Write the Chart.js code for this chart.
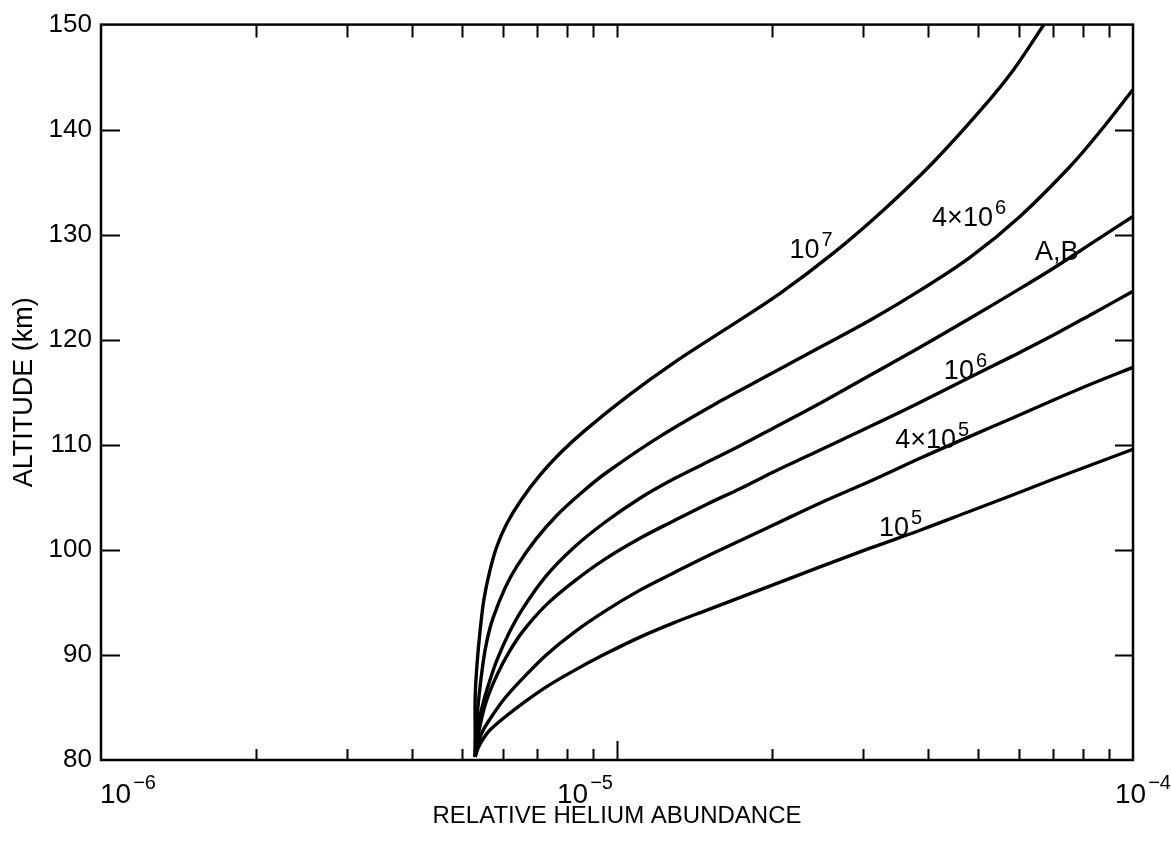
<!DOCTYPE html>
<html>
<head>
<meta charset="utf-8">
<title>Relative helium abundance vs altitude</title>
<script src="https://cdn.jsdelivr.net/npm/chart.js@4.4.1/dist/chart.umd.min.js"></script>
<style>
  html, body { margin: 0; padding: 0; background: #fff; }
  #wrap { width: 1171px; height: 843px; }
</style>
</head>
<body>
<div id="wrap"><canvas id="heliumChart" width="1171" height="843"></canvas></div>
<script>
// Curve values: relative helium abundance (x) and altitude in km (y)
const abund1e7 = [5.31e-6, 5.31e-6, 5.31e-6, 5.355e-6, 5.43e-6, 5.523e-6, 5.674e-6, 5.852e-6, 6.12e-6, 6.516e-6, 7.09e-6, 7.79e-6, 8.67e-6, 1.05e-5, 1.284e-5, 1.626e-5, 2.07e-5, 2.622e-5, 3.278e-5, 4.097e-5, 5.121e-5, 5.854e-5, 6.72e-5];
const alt1e7   = [80.30, 83.14, 85.99, 89.13, 92.36, 95.31, 98.07, 100.35, 102.54, 104.73, 107.11, 109.29, 111.38, 114.66, 117.76, 121.03, 124.42, 128.22, 132.31, 136.87, 142.11, 145.63, 150.00];

const abund4e6 = [5.31e-6, 5.33e-6, 5.38e-6, 5.5e-6, 5.6e-6, 5.75e-6, 6.066e-6, 6.4e-6, 6.966e-6, 7.65e-6, 8.556e-6, 9.56e-6, 1.212e-5, 1.583e-5, 1.98e-5, 2.474e-5, 3.093e-5, 3.866e-5, 4.832e-5, 6.039e-5, 7.55e-5, 8.63e-5, 1e-4];
const alt4e6   = [80.30, 82.76, 85.23, 89.22, 91.41, 93.50, 96.36, 98.45, 101.02, 103.30, 105.49, 107.39, 110.81, 114.14, 116.71, 119.28, 121.85, 124.70, 127.84, 131.74, 136.49, 139.82, 143.82];

const abundAB = [5.31e-6, 5.38e-6, 5.523e-6, 5.674e-6, 5.852e-6, 6.176e-6, 6.575e-6, 7.284e-6, 8.22e-6, 9.478e-6, 1.108e-5, 1.284e-5, 1.494e-5, 1.739e-5, 2.024e-5, 2.496e-5, 3.093e-5, 3.866e-5, 4.832e-5, 5.829e-5, 6.998e-5, 8.366e-5, 1e-4];
const altAB   = [80.30, 83.33, 85.71, 87.61, 89.51, 92.08, 94.45, 97.50, 100.16, 102.63, 104.92, 106.72, 108.34, 109.96, 111.67, 114.05, 116.62, 119.28, 122.04, 124.42, 126.79, 129.27, 131.74];

const abund1e6 = [5.31e-6, 5.404e-6, 5.574e-6, 5.852e-6, 6.176e-6, 6.575e-6, 7.284e-6, 8.22e-6, 9.478e-6, 1.108e-5, 1.284e-5, 1.494e-5, 1.739e-5, 2.024e-5, 2.356e-5, 2.742e-5, 3.632e-5, 4.832e-5, 5.829e-5, 6.998e-5, 8.366e-5, 1e-4];
const alt1e6   = [80.30, 82.85, 85.51, 88.08, 90.27, 92.27, 94.74, 96.93, 99.12, 101.11, 102.73, 104.35, 105.87, 107.49, 109.01, 110.53, 113.38, 116.43, 118.42, 120.42, 122.51, 124.61];

const abund4e5 = [5.31e-6, 5.449e-6, 5.674e-6, 6.066e-6, 6.575e-6, 7.284e-6, 8.22e-6, 9.478e-6, 1.108e-5, 1.284e-5, 1.494e-5, 1.739e-5, 2.024e-5, 2.496e-5, 3.093e-5, 3.866e-5, 4.832e-5, 5.829e-5, 6.998e-5, 8.366e-5, 1e-4];
const alt4e5   = [80.30, 82.38, 83.90, 85.90, 87.80, 89.98, 92.08, 94.17, 96.17, 97.78, 99.40, 100.92, 102.44, 104.54, 106.53, 108.72, 110.81, 112.53, 114.24, 115.86, 117.38];

const abund1e5 = [5.31e-6, 5.38e-6, 5.5e-6, 5.674e-6, 6.066e-6, 6.575e-6, 7.284e-6, 8.22e-6, 9.478e-6, 1.108e-5, 1.284e-5, 1.494e-5, 1.739e-5, 2.024e-5, 2.496e-5, 3.093e-5, 3.866e-5, 4.832e-5, 5.829e-5, 6.998e-5, 8.366e-5, 1e-4];
const alt1e5   = [80.30, 81.14, 82.00, 82.85, 84.09, 85.42, 86.94, 88.46, 90.08, 91.70, 93.03, 94.27, 95.50, 96.74, 98.45, 100.16, 101.87, 103.68, 105.20, 106.72, 108.15, 109.58];

// Curve labels (base text + superscript) and where they sit, in data units
const labelBase = ['10', '4×10', 'A,B', '10', '4×10', '10'];
const labelExp  = ['7', '6', '', '6', '5', '5'];
const labelAbund = [2.16e-5, 4.08e-5, 6.46e-5, 4.30e-5, 3.46e-5, 3.22e-5];
const labelAlt   = [127.8, 130.8, 127.6, 116.3, 109.7, 101.3];

// Axis ticks
const xDecades = [1e-6, 1e-5, 1e-4];
const xDecadeExp = ['−6', '−5', '−4'];
const xMinorTicks = [2e-6, 3e-6, 4e-6, 5e-6, 6e-6, 7e-6, 8e-6, 9e-6, 2e-5, 3e-5, 4e-5, 5e-5, 6e-5, 7e-5, 8e-5, 9e-5];
const yTicks = [90, 100, 110, 120, 130, 140];

const FONT = '"Liberation Sans", Arial, sans-serif';

function toPoints(xs, ys) {
  return xs.map((v, i) => ({ x: v, y: ys[i] }));
}

const series = [
  [abund1e7, alt1e7],
  [abund4e6, alt4e6],
  [abundAB, altAB],
  [abund1e6, alt1e6],
  [abund4e5, alt4e5],
  [abund1e5, alt1e5]
];

// frame, inward tick marks, decade labels and curve labels
const decorations = {
  id: 'decorations',
  afterDraw(chart) {
    const { ctx, chartArea: a, scales: { x, y } } = chart;
    ctx.save();
    ctx.strokeStyle = '#000';
    ctx.fillStyle = '#000';

    ctx.lineWidth = 2.5;
    ctx.strokeRect(a.left, a.top, a.right - a.left, a.bottom - a.top);

    ctx.lineWidth = 2;
    ctx.beginPath();
    xMinorTicks.forEach(v => {
      const px = Math.round(x.getPixelForValue(v)) + 0.5;
      ctx.moveTo(px, a.bottom); ctx.lineTo(px, a.bottom - 11);
      ctx.moveTo(px, a.top); ctx.lineTo(px, a.top + 13);
    });
    const mid = Math.round(x.getPixelForValue(xDecades[1])) + 0.5;
    ctx.moveTo(mid, a.bottom); ctx.lineTo(mid, a.bottom - 19);
    ctx.moveTo(mid, a.top); ctx.lineTo(mid, a.top + 13);
    yTicks.forEach(v => {
      const py = Math.round(y.getPixelForValue(v)) + 0.5;
      ctx.moveTo(a.left, py); ctx.lineTo(a.left + 19, py);
      ctx.moveTo(a.right, py); ctx.lineTo(a.right - 18, py);
    });
    ctx.stroke();

    // decade labels 10^n under the x axis
    const decadeShift = [-1, -60, -18];
    ctx.textBaseline = 'alphabetic';
    ctx.textAlign = 'left';
    xDecades.forEach((v, i) => {
      const px = x.getPixelForValue(v) + decadeShift[i];
      ctx.font = '28px ' + FONT;
      ctx.fillText('10', px, 803);
      const w = ctx.measureText('10').width;
      ctx.font = '20px ' + FONT;
      ctx.fillText(xDecadeExp[i], px + w + 2, 789);
    });

    // curve labels
    labelBase.forEach((t, i) => {
      const px = x.getPixelForValue(labelAbund[i]);
      const py = y.getPixelForValue(labelAlt[i]);
      ctx.font = '27px ' + FONT;
      ctx.fillText(t, px, py);
      if (labelExp[i]) {
        const w = ctx.measureText(t).width;
        ctx.font = '20px ' + FONT;
        ctx.fillText(labelExp[i], px + w + 2, py - 12);
      }
    });
    ctx.restore();
  }
};

new Chart(document.getElementById('heliumChart'), {
  type: 'line',
  data: {
    datasets: series.map(([xs, ys]) => ({
      data: toPoints(xs, ys),
      borderColor: '#000',
      borderWidth: 3.4,
      pointRadius: 0,
      fill: false,
      tension: 0.35
    }))
  },
  options: {
    responsive: false,
    animation: false,
    layout: { padding: { top: 24, right: 38, left: 0, bottom: 0 } },
    plugins: {
      legend: { display: false },
      tooltip: { enabled: false }
    },
    scales: {
      x: {
        type: 'logarithmic',
        min: 1e-6,
        max: 1e-4,
        grid: { display: false, drawTicks: false },
        border: { display: false },
        ticks: { display: false },
        title: {
          display: true,
          text: 'RELATIVE HELIUM ABUNDANCE',
          color: '#000',
          font: { family: FONT, size: 24 },
          padding: { top: 0, bottom: 12 }
        },
        afterFit(scale) { scale.height = 83; }
      },
      y: {
        type: 'linear',
        min: 80,
        max: 150,
        grid: { display: false, drawTicks: false },
        border: { display: false },
        ticks: {
          stepSize: 10,
          color: '#000',
          padding: 9,
          font: { family: FONT, size: 26 }
        },
        title: {
          display: true,
          text: 'ALTITUDE (km)',
          color: '#000',
          font: { family: FONT, size: 27 },
          padding: { top: 8, bottom: 0 }
        },
        afterFit(scale) { scale.width = 101; }
      }
    }
  },
  plugins: [decorations]
});
</script>
</body>
</html>
